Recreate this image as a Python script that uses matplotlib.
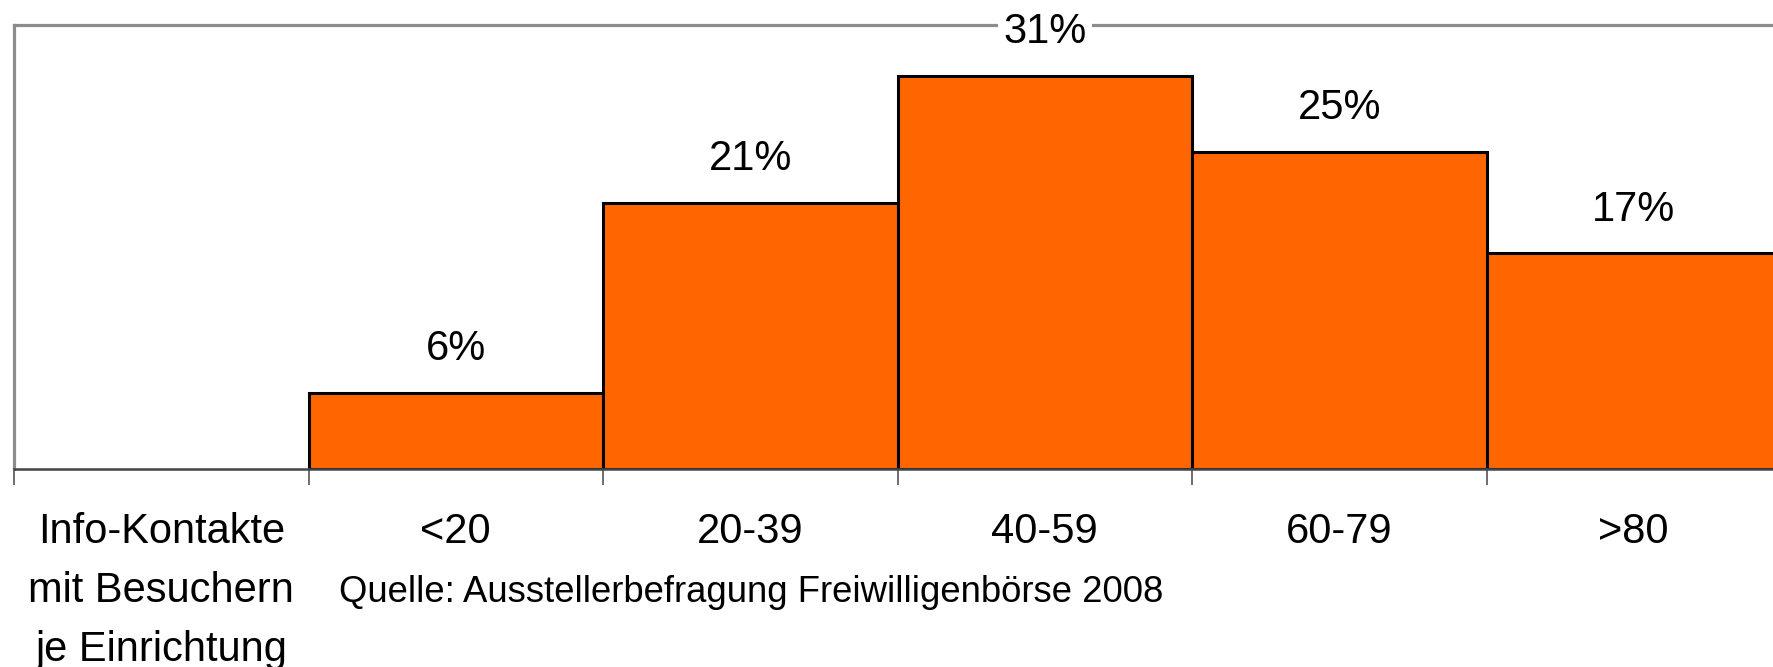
import matplotlib
matplotlib.use('Agg')
import matplotlib.pyplot as plt

plt.rcParams['font.family'] = ['Liberation Sans', 'DejaVu Sans']

# categories (first slot is the axis caption, no bar)
categories = ['Info-Kontakte\nmit Besuchern\nje Einrichtung', '<20', '20-39', '40-59', '60-79', '>80']
bar_labels = ['<20', '20-39', '40-59', '60-79', '>80']
shares = [6, 21, 31, 25, 17]
source_text = 'Quelle: Ausstellerbefragung Freiwilligenbörse 2008'

W, H = 1774, 667
fig = plt.figure(figsize=(W / 100, H / 100), dpi=100)
ax = fig.add_axes([14 / W, 1 - 469 / H, 1767 / W, 444 / H])

xpos = [categories.index(c) for c in bar_labels]
bars = ax.bar(xpos, shares, width=1.0, color='#FF6600', edgecolor='black', linewidth=2.2, zorder=3)

for x, v in zip(xpos, shares):
    box = dict(facecolor='white', edgecolor='none', pad=4) if v == max(shares) else None
    ax.annotate(f'{v}%', (x, v), xytext=(0, 31.5), textcoords='offset points',
                ha='center', va='center', fontsize=30, bbox=box, zorder=5,
                annotation_clip=False)

ax.set_xlim(-0.5, len(categories) - 0.5)
ax.set_ylim(0, 35)
ax.set_yticks([])

# ticks at bin edges, labels at centres
ax.set_xticks([i - 0.5 for i in range(len(categories) + 1)])
ax.set_xticklabels([])
ax.set_xticks(range(len(categories)), minor=True)
ax.set_xticklabels(categories, minor=True, fontsize=30, linespacing=1.62)
ax.tick_params(axis='x', which='major', length=11.5, width=1.2, color='#555555')
ax.tick_params(axis='x', which='minor', length=0, pad=31)

ax.spines['right'].set_visible(False)
ax.spines['top'].set_color('#8c8c8c')
ax.spines['top'].set_linewidth(2.3)
ax.spines['left'].set_color('#8c8c8c')
ax.spines['left'].set_linewidth(2.3)
ax.spines['bottom'].set_color('#444444')
ax.spines['bottom'].set_linewidth(1.8)
ax.spines['bottom'].set_zorder(4)

fig.text(339 / W, 1 - 592 / H, source_text, fontsize=26.3, va='center', ha='left')

fig.savefig('out.png', dpi=100)
